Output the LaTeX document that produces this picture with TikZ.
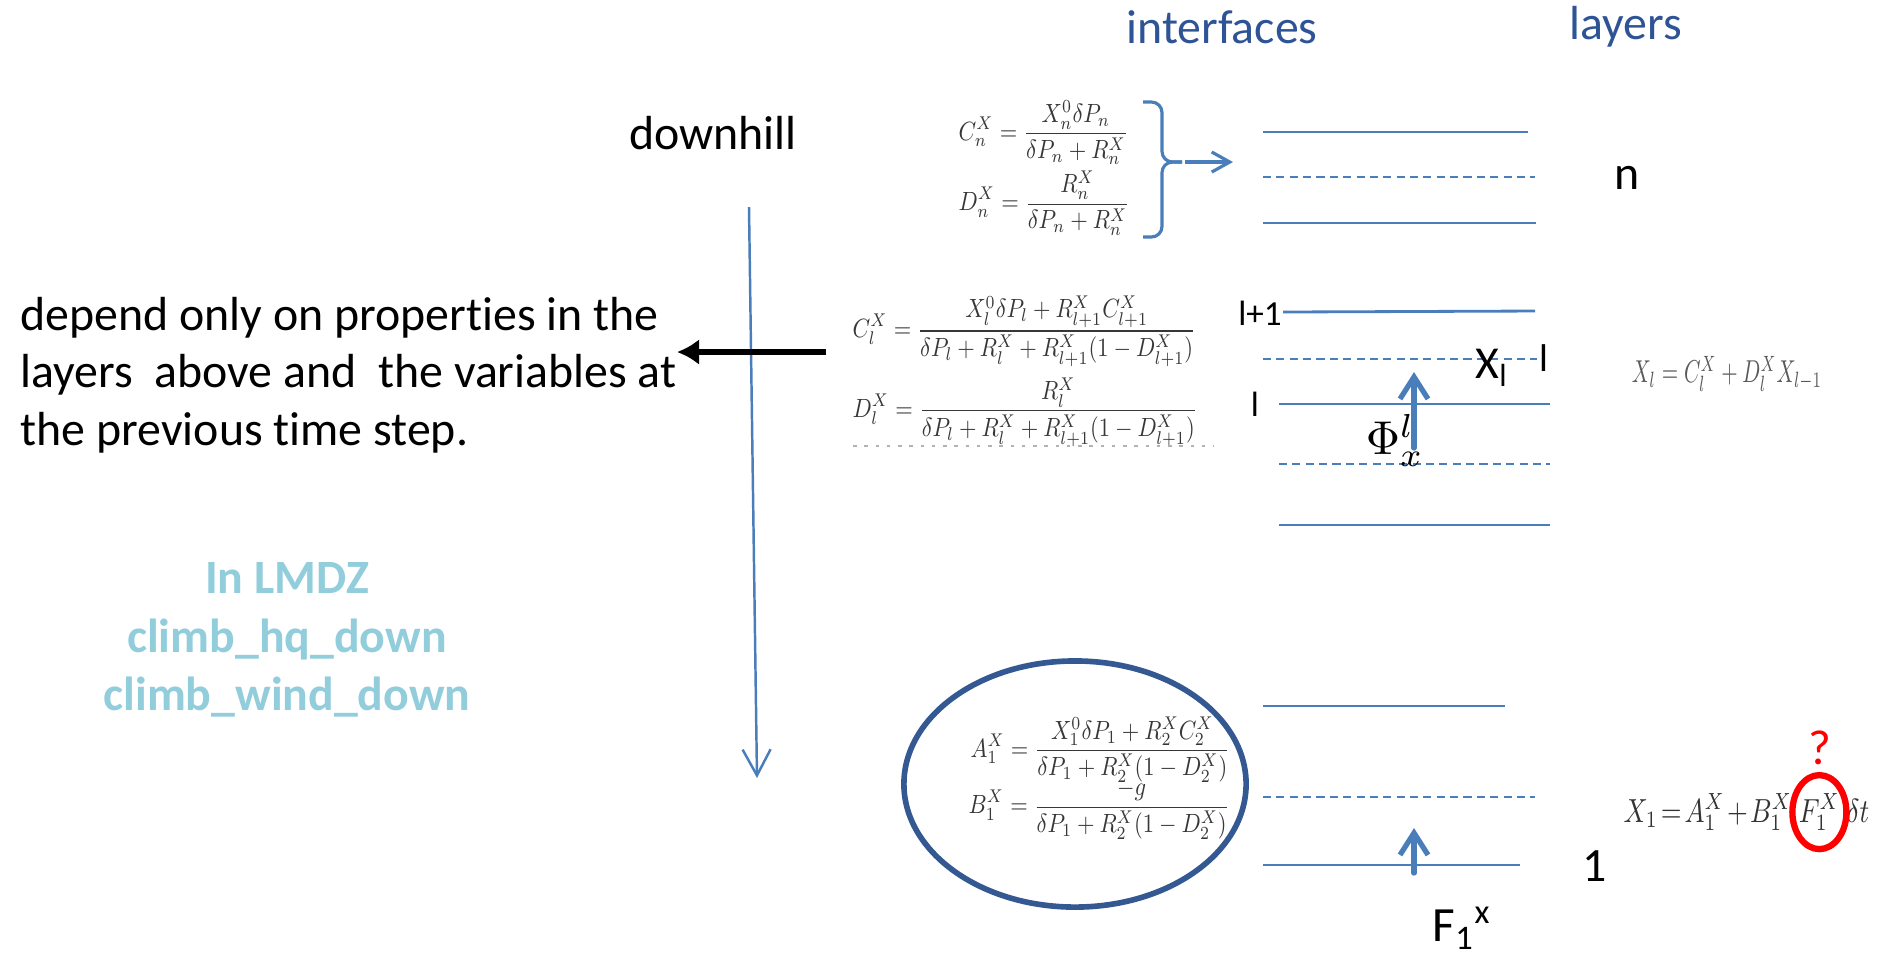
\documentclass[tikz,border=0pt]{standalone}
\usepackage{amsmath}
\usepackage{fontspec}
\usepackage{tikz}
\usetikzlibrary{arrows.meta,positioning}
\newfontfamily\calibri[Ligatures=NoCommon]{Carlito}
\definecolor{ifblue}{RGB}{74,126,187}
\definecolor{headblue}{RGB}{46,84,150}
\definecolor{ringblue}{RGB}{52,88,145}
\definecolor{lmdzblue}{RGB}{146,205,220}
\definecolor{eqgray}{RGB}{55,55,55}
\newcommand{\eqsmall}[1]{\scalebox{0.64}[0.75]{$\displaystyle #1$}}
\newcommand{\eqnarrow}[1]{\scalebox{0.76}[0.95]{$\thickmuskip=2mu\medmuskip=1.5mu #1$}}

\begin{document}
\begin{tikzpicture}[x=0.01cm,y=-0.01cm,
  txt/.style={font=\calibri\fontsize{13.6}{16.4}\selectfont,inner sep=0pt},
  lbl/.style={font=\calibri\fontsize{10}{12}\selectfont,inner sep=0pt},
  eqn/.style={text=eqgray,inner sep=0pt,anchor=west},
  reqn/.style={text=black!80,inner sep=0pt,anchor=base west},
  iface/.style={ifblue,line width=0.8pt},
  layer/.style={ifblue,line width=0.8pt,dash pattern=on 2.3pt off 1.5pt},
  flux/.style={ifblue,line width=1.5pt,line cap=round,-{Straight Barb[length=2.2mm,width=2.8mm]}}]
\useasboundingbox (0,0) rectangle (1891,953);
\node[txt,text=headblue] (ifc) at (1222,27) {interfaces};
\node[txt,text=headblue] (lay) at (1626,27) {layers};
\node[txt] (dh) at (713,133) {downhill};
\node[txt,anchor=west,align=left] (dep) at (20,375) {depend only on properties in the\\layers\ \ above and\ \ the variables at\\the previous time step.};
\node[txt,font=\calibri\bfseries\fontsize{13.6}{16.6}\selectfont,text=lmdzblue,align=center] (lmdz) at (287,640) {In LMDZ\\climb\_hq\_down\\climb\_wind\_down};
\coordinate (dtop) at (749,207);
\coordinate (dbot) at (757,778);
\draw[ifblue,line width=0.7pt,-{Straight Barb[length=2.6mm,width=2.8mm]}] (dtop) -- (dbot);
% top layer, n
\node[eqn] (ceqn) at (958,133) {\eqsmall{C_n^X=\frac{X_n^0\delta P_n}{\delta P_n+R_n^X}}};
\node[eqn] (deqn) at (958,203) {\eqsmall{D_n^X=\frac{R_n^X}{\delta P_n+R_n^X}}};
\draw[ifblue,line width=0.9pt,rounded corners=3pt] (1143,102) -| (1162,162) -- (1182,162);
\draw[ifblue,line width=0.9pt,rounded corners=3pt] (1182,162) -- (1162,162) |- (1143,237);
\coordinate (btip) at (1185,162);
\coordinate (bto) at (1233,162);
\draw[ifblue,line width=0.9pt,-{Straight Barb[length=1.8mm,width=2mm]}] (btip) -- (bto);
\draw[iface] (1263,132) -- (1528,132);
\draw[layer] (1263,177) -- (1535,177);
\draw[iface] (1263,223) -- (1536,223);
\node[txt] (nlab) at (1627,178) {n};
% layer l
\node[eqn] (ceql) at (852,331) {\eqsmall{C_l^X=\frac{X_l^0\delta P_l+R_{l+1}^XC_{l+1}^X}{\delta P_l+R_l^X+R_{l+1}^X(1-D_{l+1}^X)}}};
\node[eqn] (deql) at (852,412) {\eqsmall{D_l^X=\frac{R_l^X}{\delta P_l+R_l^X+R_{l+1}^X(1-D_{l+1}^X)}}};
\draw[gray!60,line width=0.5pt,dash pattern=on 1pt off 2.2pt] (853,446) -- (1214,446);
\coordinate (src) at (826,352);
\draw[line width=1.5pt,-{Latex[length=2.2mm,width=2.6mm]}] (src) -- (dep.east |- src);
\draw[iface] (1283,312) -- (1535,311);
\draw[layer] (1263,359) -- (1537,359);
\draw[iface] (1279,404) -- (1550,404);
\draw[layer] (1279,464) -- (1550,464);
\draw[iface] (1279,525) -- (1550,525);
\node[lbl] (lp1) at (1260,313) {l+1};
\node[lbl] (ll) at (1255,404) {l};
\node[lbl,font=\calibri\fontsize{11}{13}\selectfont] (lr) at (1544,358) {l};
\node[txt,font=\calibri\fontsize{13}{15}\selectfont] (xl) at (1492,368) {X\textsubscript{l}};
\coordinate (phibot) at (1414,448);
\coordinate (phitop) at (1414,372);
\draw[flux] (phibot) -- (phitop);
\node[inner sep=0pt] (phi) at (1395,440) {\scalebox{1.35}{$\Phi^{l}_{x}$}};
\node[text=black!65,inner sep=0pt] (xleq) at (1727,374) {\scalebox{0.6}[0.9]{$X_l=C_l^X+D_l^XX_{l-1}$}};
% bottom layer, 1
\draw[ringblue,line width=1.6pt] (1075,784) ellipse [x radius=1.71cm,y radius=1.23cm];
\node[eqn] (aeq) at (970,750) {\eqsmall{A_1^X=\frac{X_1^0\delta P_1+R_2^XC_2^X}{\delta P_1+R_2^X(1-D_2^X)}}};
\node[eqn] (beq) at (968,810) {\eqsmall{B_1^X=\frac{-g}{\delta P_1+R_2^X(1-D_2^X)}}};
\draw[iface] (1263,706) -- (1505,706);
\draw[layer] (1263,797) -- (1535,797);
\draw[iface] (1263,865) -- (1520,865);
\coordinate (fbot) at (1414,873);
\coordinate (ftop) at (1414,828);
\draw[flux] (fbot) -- (ftop);
\node[txt] (one) at (1595,866) {1};
\node[txt,font=\calibri\fontsize{14}{16}\selectfont] (fx) at (1462,928) {F\textsubscript{1}\textsuperscript{x}};
\node[reqn] (xone) at (1623,822) {\eqnarrow{X_1=A_1^X+B_1^X}};
\node[reqn] (fone) at ([xshift=1.5pt]xone.base east) {\eqnarrow{F_1^X}};
\node[reqn] (dt) at ([xshift=1.5pt]fone.base east) {\eqnarrow{\delta t}};
\draw[red,line width=1.8pt] (fone.center) ellipse [x radius=0.27cm,y radius=0.37cm];
\node[txt,text=red,font=\calibri\fontsize{14}{16}\selectfont,above=0.28cm of fone] (qm) {?};
\end{tikzpicture}
\end{document}
